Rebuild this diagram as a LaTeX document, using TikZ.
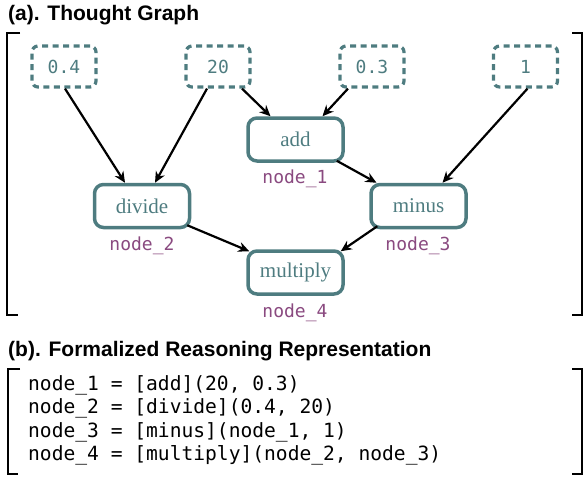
\documentclass[tikz,border=0pt]{standalone}
\usepackage{fontspec}
\setmainfont{Liberation Serif}
\setmonofont{DejaVu Sans Mono}
\newfontfamily\titlefont{Liberation Sans}
\usetikzlibrary{arrows.meta}
\definecolor{teal}{HTML}{4E7C80}
\definecolor{plum}{HTML}{8A4A80}
\tikzset{
  valbox/.style={draw=teal, line width=3.2pt, dash pattern=on 6pt off 4.5pt, rounded corners=6pt,
    minimum width=64pt, minimum height=41pt, inner sep=0pt, text=teal,
    font=\fontsize{18}{20}\selectfont\ttfamily},
  opbox/.style={draw=teal, line width=3.5pt, rounded corners=9pt,
    minimum width=95pt, minimum height=43pt, inner sep=0pt, text=teal,
    font=\fontsize{21}{24}\selectfont},
  lbl/.style={text=plum, inner sep=0pt, font=\fontsize{18}{20}\selectfont\ttfamily},
  code/.style={anchor=base west, inner sep=0pt, font=\fontsize{19.6}{22}\selectfont\ttfamily},
  ttl/.style={anchor=base west, inner sep=0pt, font=\fontsize{21}{24}\selectfont\titlefont\bfseries},
  arr/.style={line width=2.2pt, -{Stealth[length=11pt,width=10pt]}},
  brk/.style={line width=2.8pt},
}
\begin{document}
\begin{tikzpicture}[x=1pt,y=-1pt]
\useasboundingbox (0,0) rectangle (584,477);
% titles
\node[ttl] (ta) at (8,20) {(a). Thought Graph};
\node[ttl] (tb) at (8,356) {(b). Formalized Reasoning Representation};
% brackets
\draw[brk] (20,33) -- (7,33) -- (7,315) -- (18,315);
\draw[brk] (572,33) -- (582,33) -- (582,315) -- (572,315);
\draw[brk] (20,369) -- (8,369) -- (8,474) -- (18,474);
\draw[brk] (572,369) -- (582,369) -- (582,474) -- (572,474);
% value nodes
\node[valbox] (v04) at (64,66.5) {0.4};
\node[valbox] (v20) at (218,66.5) {20};
\node[valbox] (v03) at (372,66.5) {0.3};
\node[valbox] (v1) at (525.5,66.5) {1};
% operation nodes
\node[opbox] (add) at (295.5,139.5) {add};
\node[opbox] (divide) at (142,206) {divide};
\node[opbox] (minus) at (418.5,206) {minus};
\node[opbox] (multiply) at (295.5,272.5) {multiply};
% labels
\node[lbl] (l1) at (295,179) {node\_1};
\node[lbl] (l2) at (142,245.5) {node\_2};
\node[lbl] (l3) at (418,245.5) {node\_3};
\node[lbl] (l4) at (295,312.5) {node\_4};
% connectors
\draw[arr] ([xshift=1pt]v04.south) -- ([xshift=-17pt]divide.north);
\draw[arr] ([xshift=-11pt]v20.south) -- ([xshift=13pt]divide.north);
\draw[arr] ([xshift=24pt]v20.south) -- ([xshift=-25pt]add.north);
\draw[arr] ([xshift=-24pt]v03.south) -- ([xshift=27pt]add.north);
\draw[arr] ([xshift=2pt]v1.south) -- ([xshift=24pt]minus.north);
\draw[arr] ([xshift=-8pt,yshift=2pt]add.south east) -- ([xshift=-42pt]minus.north);
\draw[arr] ([xshift=-4pt,yshift=4pt]divide.south east) -- ([xshift=3pt,yshift=-2pt]multiply.north west);
\draw[arr] ([xshift=8pt,yshift=3pt]minus.south west) -- ([xshift=-4pt,yshift=-2pt]multiply.north east);
% code
\node[code] (c1) at (28,390) {node\_1 = [add](20, 0.3)};
\node[code] (c2) at (28,413) {node\_2 = [divide](0.4, 20)};
\node[code] (c3) at (28,437) {node\_3 = [minus](node\_1, 1)};
\node[code] (c4) at (28,460) {node\_4 = [multiply](node\_2, node\_3)};
\end{tikzpicture}
\end{document}
